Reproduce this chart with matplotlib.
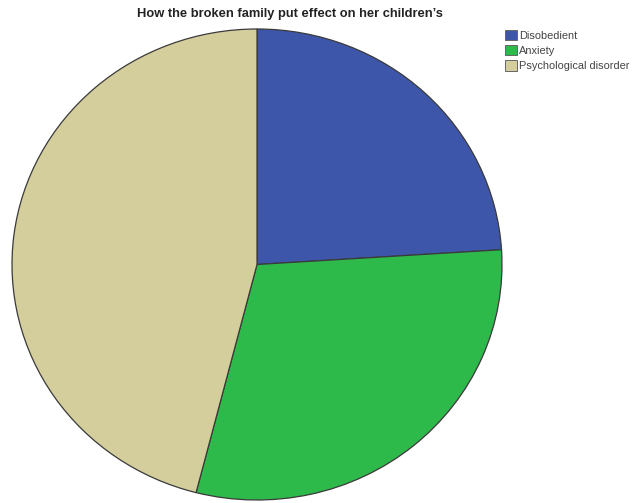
import matplotlib
matplotlib.use('Agg')
import matplotlib.pyplot as plt
from matplotlib.patches import Patch

# share of children per effect (percent)
labels = ['Disobedient', 'Anxiety', 'Psychological disorder']
values = [24, 30, 46]
colors = ['#3D56AA', '#2EB94B', '#D4CD9C']

plt.rcParams['font.family'] = ['Liberation Sans', 'DejaVu Sans']

fig = plt.figure(figsize=(6.36, 5.03), dpi=100)
ax = fig.add_axes([12 / 636, 3 / 503, 490 / 636, 471 / 503])
ax.pie(values, colors=colors, startangle=90, counterclock=False,
       wedgeprops=dict(edgecolor='#3a3a3a', linewidth=0.9))
ax.set_aspect('auto')
ax.set_xlim(-1, 1)
ax.set_ylim(-1, 1)

fig.text(290 / 636, 1 - 14 / 503, 'How the broken family put effect on her children\u2019s',
         ha='center', va='center', fontsize=9.3, fontweight='bold', color='#222222')

handles = [Patch(facecolor=c, edgecolor='#666666', linewidth=0.7) for c in colors]
fig.legend(handles, labels, loc='upper left', bbox_to_anchor=(505 / 636, 1 - 30 / 503),
           frameon=False, fontsize=7.9, handlelength=1.05, handleheight=1.05,
           handletextpad=0.2, labelspacing=0.4, borderpad=0, borderaxespad=0,
           labelcolor='#444444')

fig.savefig('out.png', dpi=100)
